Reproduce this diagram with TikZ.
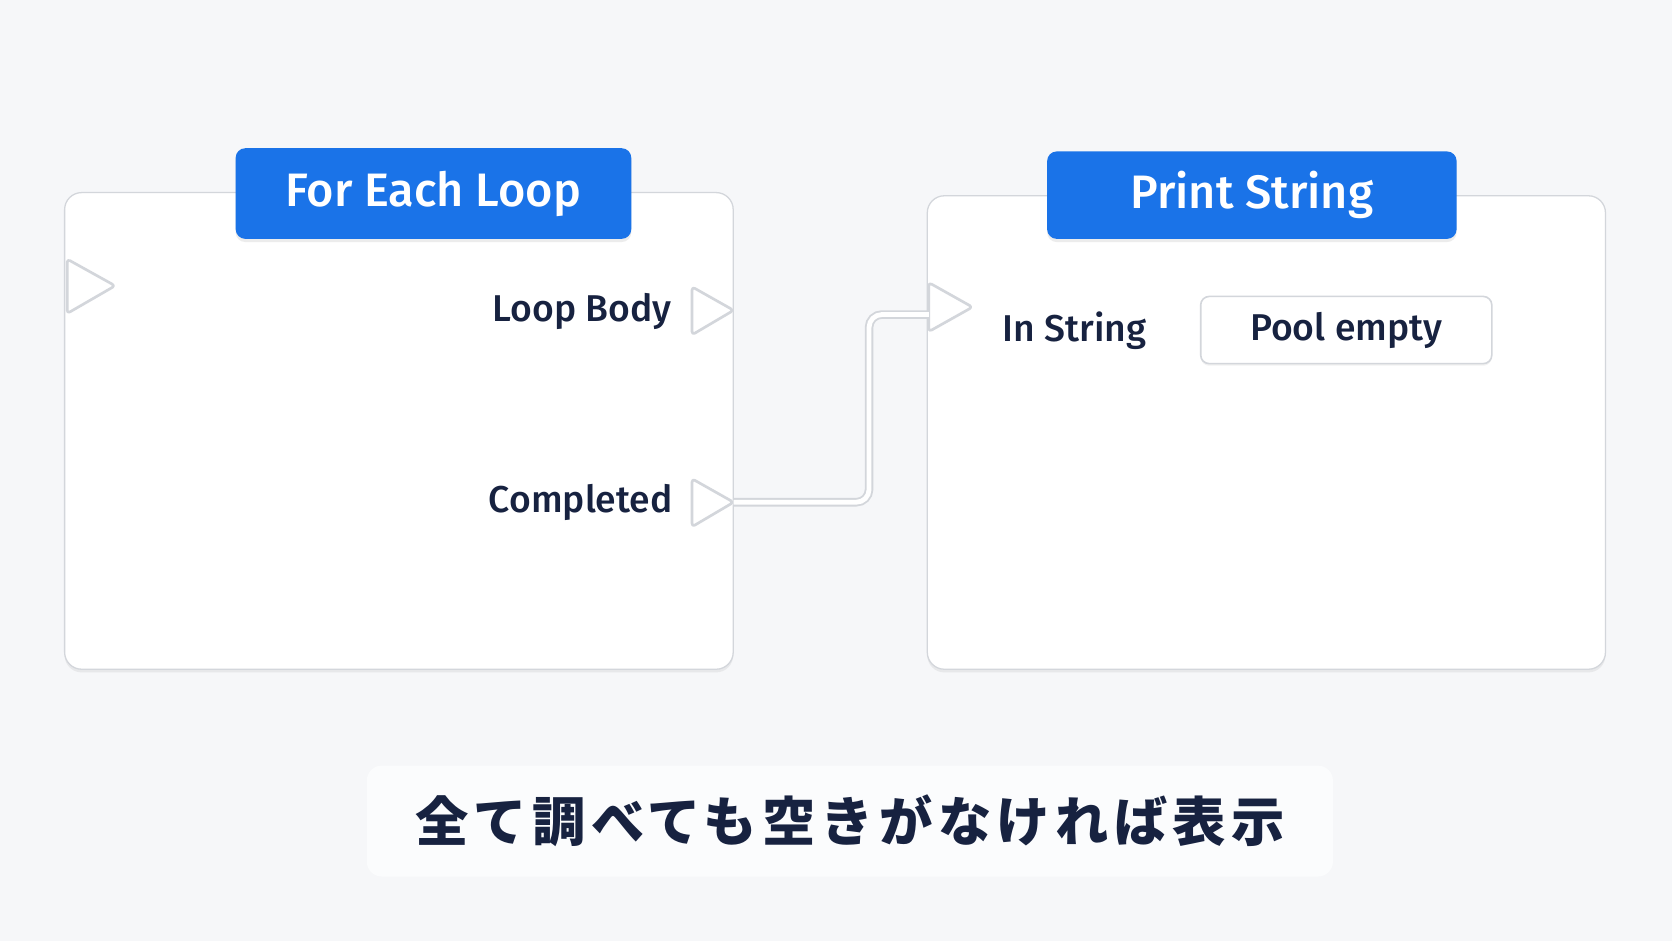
\documentclass[tikz,border=0pt]{standalone}
\usepackage{fontspec}
\setmainfont{Fira Sans}[UprightFont={* Medium},BoldFont={* SemiBold}]
\newfontfamily\jpfont{Noto Sans CJK JP}[LetterSpace=10]
\usetikzlibrary{shadows}
\definecolor{bg}{HTML}{F6F7F9}
\definecolor{blu}{HTML}{1A73E8}
\definecolor{ink}{HTML}{172240}
\definecolor{edge}{HTML}{D3D6DB}
\begin{document}
\begin{tikzpicture}[x=1pt,y=-1pt,
  panel/.style={fill=white,draw=edge,line width=1.2pt,rounded corners=16pt,drop shadow={opacity=0.12,shadow xshift=0pt,shadow yshift=-3pt}},
  title/.style={fill=blu,rounded corners=9pt,text=white,font=\fontsize{44}{48}\selectfont,inner sep=0pt,drop shadow={opacity=0.15,shadow xshift=0pt,shadow yshift=-3pt}},
  lbl/.style={text=ink,font=\fontsize{35}{40}\selectfont,inner sep=0pt},
  pin/.style={fill=white,draw=edge,line width=2.5pt,line join=round,rounded corners=3pt}]
\useasboundingbox (0,0) rectangle (1568,882);
\fill[bg] (0,0) rectangle (1568,882);
% left panel
\node[panel,minimum width=627,minimum height=447,anchor=north west] (lp) at (60,180) {};
\node[title,minimum width=371,minimum height=85] (lt) at (406.5,181.5) {For Each Loop};
\draw[pin] (63,243) -- (108,268) -- (63,294) -- cycle;
\draw[pin] (649,269) -- (688,291) -- (649,314) -- cycle;
\coordinate (lb) at (688,291);
\draw[pin] (649,449) -- (688,471) -- (649,494) -- cycle;
\coordinate (cp) at (688,471);
\node[lbl,anchor=east] (lbt) at (630,292) {Loop Body};
\node[lbl,anchor=east] (cpt) at (631,471) {Completed};
% right panel
\node[panel,minimum width=636,minimum height=444,anchor=north west] (rp) at (869,183) {};
\node[title,minimum width=384,minimum height=82] (rt) at (1174,183) {Print String};
\draw[pin] (871,265) -- (912,288) -- (871,311) -- cycle;
\coordinate (is) at (871,295);
\node[lbl,anchor=west] (ist) at (940,310) {In String};
\node[fill=white,draw=edge,line width=1.5pt,rounded corners=8pt,minimum width=273,minimum height=63,drop shadow={opacity=0.1,shadow xshift=0pt,shadow yshift=-2pt},lbl] (pe) at (1262.5,309.5) {Pool empty};
% connector
\draw[edge,line width=8pt,rounded corners=12pt] (cp) -- (815,471) -- (815,295) -- (is);
\draw[white,line width=4.5pt,rounded corners=12pt] (cp) -- (815,471) -- (815,295) -- (is);
% caption
\node[fill=white!60!bg,rounded corners=14pt,minimum width=906,minimum height=104,text=ink,font=\jpfont\fontsize{50}{54}\selectfont\bfseries] (cap) at (797,770) {全て調べても空きがなければ表示};
\end{tikzpicture}
\end{document}
